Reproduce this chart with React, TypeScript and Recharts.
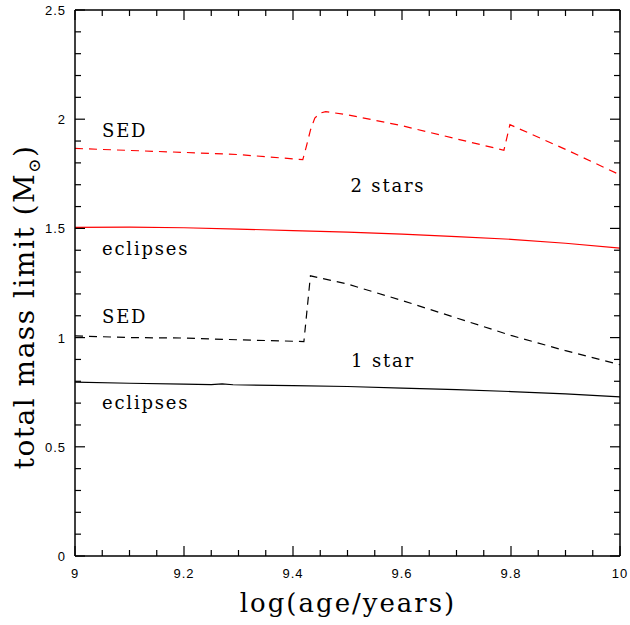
import { Line, LineChart, XAxis, YAxis } from 'recharts'

document.body.style.margin = '0'

// x ticks every 0.05, labelled every 0.2
const X_TICKS = [9, 9.05, 9.1, 9.15, 9.2, 9.25, 9.3, 9.35, 9.4, 9.45, 9.5, 9.55, 9.6, 9.65, 9.7, 9.75, 9.8, 9.85, 9.9, 9.95, 10]
const X_LABELS = [9, 9.2, 9.4, 9.6, 9.8, 10]
// y ticks every 0.1, labelled every 0.5
const Y_TICKS = [0, 0.1, 0.2, 0.3, 0.4, 0.5, 0.6, 0.7, 0.8, 0.9, 1, 1.1, 1.2, 1.3, 1.4, 1.5, 1.6, 1.7, 1.8, 1.9, 2, 2.1, 2.2, 2.3, 2.4, 2.5]
const Y_LABELS = [0, 0.5, 1, 1.5, 2, 2.5]

// 2 stars
const sed2Age = [9.0, 9.1, 9.2, 9.3, 9.418, 9.425, 9.432, 9.44, 9.45, 9.46, 9.5, 9.6, 9.7, 9.787, 9.798, 9.9, 10.0]
const sed2Mass = [1.866, 1.857, 1.848, 1.838, 1.815, 1.88, 1.95, 2.005, 2.028, 2.035, 2.02, 1.97, 1.91, 1.858, 1.975, 1.862, 1.745]
const ecl2Age = [9.0, 9.1, 9.2, 9.3, 9.4, 9.5, 9.6, 9.7, 9.8, 9.9, 10.0]
const ecl2Mass = [1.505, 1.506, 1.503, 1.497, 1.49, 1.483, 1.474, 1.462, 1.45, 1.432, 1.41]

// 1 star
const sed1Age = [9.0, 9.1, 9.2, 9.3, 9.42, 9.432, 9.5, 9.6, 9.7, 9.8, 9.9, 10.0]
const sed1Mass = [1.008, 1.0, 0.998, 0.99, 0.982, 1.283, 1.245, 1.17, 1.09, 1.01, 0.94, 0.876]
const ecl1Age = [9.0, 9.1, 9.2, 9.25, 9.27, 9.29, 9.4, 9.5, 9.6, 9.7, 9.8, 9.9, 10.0]
const ecl1Mass = [0.796, 0.791, 0.787, 0.785, 0.788, 0.784, 0.78, 0.776, 0.769, 0.762, 0.753, 0.742, 0.729]

const zip = (ages: number[], mass: number[]) => ages.map((a, i) => ({ age: a, mass: mass[i] }))

const sans = '"Liberation Sans", Arial, sans-serif'
const serif = '"DejaVu Serif", serif'

function BottomTick({ x, y, payload }: any) {
  const major = X_LABELS.includes(payload.value)
  return (
    <g>
      <line x1={x} x2={x} y1={y} y2={y - (major ? 10 : 6)} stroke="#000" strokeWidth={1.2} />
      {major && (
        <text x={x} y={y + 22} textAnchor="middle" fontSize={13} fontFamily={sans} letterSpacing={1}>
          {payload.value}
        </text>
      )}
    </g>
  )
}

function TopTick({ x, y, payload }: any) {
  const major = X_LABELS.includes(payload.value)
  return <line x1={x} x2={x} y1={y} y2={y + (major ? 10 : 6)} stroke="#000" strokeWidth={1.2} />
}

function LeftTick({ x, y, payload }: any) {
  const major = Y_LABELS.includes(payload.value)
  return (
    <g>
      <line x1={x} x2={x + (major ? 10 : 6)} y1={y} y2={y} stroke="#000" strokeWidth={1.2} />
      {major && (
        <text x={x - 9} y={y + 5} textAnchor="end" fontSize={13} fontFamily={sans} letterSpacing={1}>
          {payload.value}
        </text>
      )}
    </g>
  )
}

function RightTick({ x, y, payload }: any) {
  const major = Y_LABELS.includes(payload.value)
  return <line x1={x} x2={x - (major ? 10 : 6)} y1={y} y2={y} stroke="#000" strokeWidth={1.2} />
}

const note = (left: number, top: number, text: string, center = false) => (
  <div
    style={{
      position: 'absolute',
      left,
      top,
      transform: center ? 'translate(-50%, -50%)' : 'translateY(-50%)',
      fontFamily: serif,
      fontSize: 18,
      letterSpacing: 1.8,
      lineHeight: 1,
      whiteSpace: 'nowrap',
      color: '#000',
    }}
  >
    {text}
  </div>
)

export default function App() {
  const axisLine = { stroke: '#000', strokeWidth: 1.5 }
  return (
    <div style={{ position: 'relative', width: 630, height: 625, background: '#fff' }}>
      <LineChart width={630} height={625} margin={{ top: 9, right: 9, bottom: 0, left: 0 }}>
        <XAxis
          xAxisId="bottom"
          type="number"
          dataKey="age"
          domain={[9, 10]}
          ticks={X_TICKS}
          interval={0}
          tick={<BottomTick />}
          tickSize={0}
          tickMargin={0}
          tickLine={false}
          axisLine={axisLine}
          height={69}
          allowDataOverflow
        />
        <XAxis
          xAxisId="top"
          orientation="top"
          type="number"
          dataKey="age"
          domain={[9, 10]}
          ticks={X_TICKS}
          interval={0}
          tick={<TopTick />}
          tickSize={0}
          tickMargin={0}
          tickLine={false}
          axisLine={axisLine}
          height={1}
          allowDataOverflow
        />
        <YAxis
          yAxisId="left"
          type="number"
          domain={[0, 2.5]}
          ticks={Y_TICKS}
          interval={0}
          tick={<LeftTick />}
          tickSize={0}
          tickMargin={0}
          tickLine={false}
          axisLine={axisLine}
          width={75}
          allowDataOverflow
        />
        <YAxis
          yAxisId="right"
          orientation="right"
          type="number"
          domain={[0, 2.5]}
          ticks={Y_TICKS}
          interval={0}
          tick={<RightTick />}
          tickSize={0}
          tickMargin={0}
          tickLine={false}
          axisLine={axisLine}
          width={1}
          allowDataOverflow
        />
        {/* invisible copy so the top / right frame axes get drawn */}
        <Line xAxisId="top" yAxisId="right" data={zip(ecl1Age, ecl1Mass)} dataKey="mass" type="linear"
          stroke="none" dot={false} activeDot={false} isAnimationActive={false} legendType="none" />
        <Line xAxisId="bottom" yAxisId="left" data={zip(sed2Age, sed2Mass)} dataKey="mass" type="linear"
          stroke="#ff0000" strokeWidth={1.2} strokeDasharray="8 6" dot={false} isAnimationActive={false} />
        <Line xAxisId="bottom" yAxisId="left" data={zip(ecl2Age, ecl2Mass)} dataKey="mass" type="linear"
          stroke="#ff0000" strokeWidth={1.2} dot={false} isAnimationActive={false} />
        <Line xAxisId="bottom" yAxisId="left" data={zip(sed1Age, sed1Mass)} dataKey="mass" type="linear"
          stroke="#000" strokeWidth={1.2} strokeDasharray="8 6" dot={false} isAnimationActive={false} />
        <Line xAxisId="bottom" yAxisId="left" data={zip(ecl1Age, ecl1Mass)} dataKey="mass" type="linear"
          stroke="#000" strokeWidth={1.2} dot={false} isAnimationActive={false} />
      </LineChart>

      {note(102, 131, 'SED')}
      {note(388, 186, '2 stars', true)}
      {note(102, 249, 'eclipses')}
      {note(102, 317, 'SED')}
      {note(383, 361, '1 star', true)}
      {note(102, 403, 'eclipses')}

      <div
        style={{
          position: 'absolute',
          left: 348,
          top: 603,
          transform: 'translate(-50%, -50%)',
          fontFamily: serif,
          fontSize: 26,
          letterSpacing: 2,
          lineHeight: 1,
          whiteSpace: 'nowrap',
        }}
      >
        log(age/years)
      </div>
      <div
        style={{
          position: 'absolute',
          left: 27,
          top: 307,
          transform: 'translate(-50%, -50%) rotate(-90deg)',
          fontFamily: serif,
          fontSize: 28,
          letterSpacing: 1.5,
          lineHeight: 1,
          whiteSpace: 'nowrap',
        }}
      >
        total mass limit (M<sub style={{ fontSize: 17 }}>⊙</sub>)
      </div>
    </div>
  )
}
